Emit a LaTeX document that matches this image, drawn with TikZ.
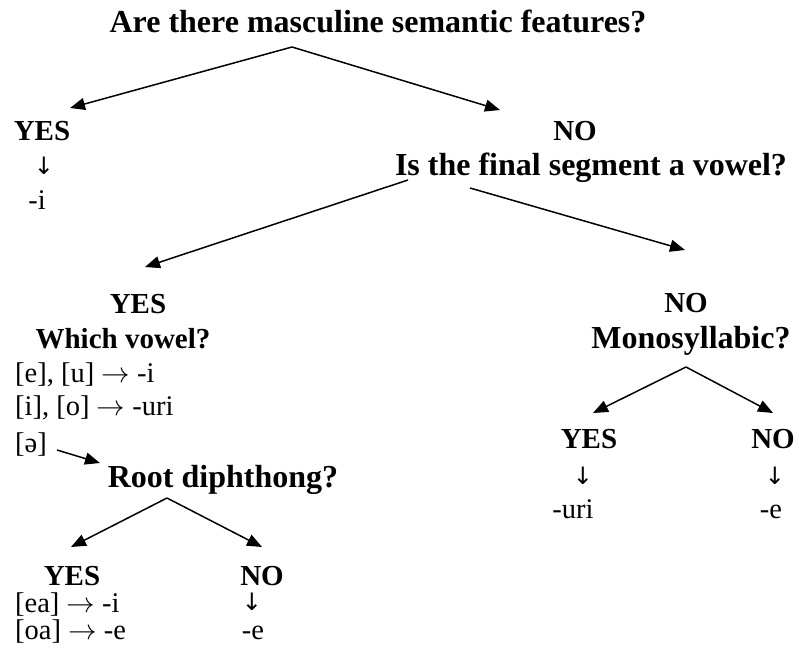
\documentclass[tikz,border=0pt]{standalone}
\usepackage{fix-cm}
\usepackage{fontspec}
\setmainfont{Liberation Serif}
\newfontfamily\arrowfont{DejaVu Sans}
\usetikzlibrary{arrows.meta}

\begin{document}
\begin{tikzpicture}[x=1pt, y=-1pt,
    question/.style={anchor=base, inner sep=0pt, font=\fontsize{32}{38}\selectfont\bfseries},
    answer/.style={anchor=base, inner sep=0pt, font=\fontsize{29}{34}\selectfont\bfseries},
    rule/.style={anchor=base west, inner sep=0pt, font=\fontsize{28.5}{34}\selectfont},
    outcome/.style={anchor=base, inner sep=0pt, font=\fontsize{28.5}{34}\selectfont},
    down/.style={anchor=base, inner sep=0pt, font=\fontsize{24}{28}\arrowfont},
    branch/.style={line width=1.5pt, -{Triangle[length=15pt, width=12pt]}}]
    \useasboundingbox (0,0) rectangle (799,662);

    % first question
    \node[question] (masc) at (378,32) {Are there masculine semantic features?};
    \node[answer] (mascyes) at (42,140) {YES};
    \node[down] (mascdown) at (44,174) {↓};
    \node[outcome] (masci) at (37,209) {-i};
    \node[answer] (mascno) at (575,140) {NO};

    % final segment
    \node[question] (final) at (591,175) {Is the final segment a vowel?};
    \node[answer] (finalyes) at (138,313) {YES};
    \node[answer] (vowel) at (123,348) {Which vowel?};
    \node[rule] (eu) at (15,382) {[e], [u] $\rightarrow$ -i};
    \node[rule] (io) at (15,415) {[i], [o] $\rightarrow$ -uri};
    \node[rule] (schwa) at (15,452) {[ə]};
    \node[answer] (finalno) at (686,312) {NO};
    \node[question] (mono) at (691,348) {Monosyllabic?};

    % monosyllabic
    \node[answer] (monoyes) at (589,448) {YES};
    \node[answer] (monono) at (773,448) {NO};
    \node[down] (monoyesdown) at (583,484) {↓};
    \node[down] (mononodown) at (775,484) {↓};
    \node[outcome] (monouri) at (573,518) {-uri};
    \node[outcome] (monoe) at (771,518) {-e};

    % root diphthong
    \node[question] (root) at (223,487) {Root diphthong?};
    \node[answer] (rootyes) at (72,585) {YES};
    \node[answer] (rootno) at (262,585) {NO};
    \node[rule] (ea) at (15,612) {[ea] $\rightarrow$ -i};
    \node[rule] (oa) at (15,639) {[oa] $\rightarrow$ -e};
    \node[down] (rootdown) at (252,610) {↓};
    \node[outcome] (roote) at (253,639) {-e};

    % branch points
    \coordinate (mascfork) at (292,47);
    \coordinate (mascyestip) at (70,108);
    \coordinate (mascnotip) at (500,110);
    \coordinate (finalleft) at (408,180);
    \coordinate (finalright) at (470,188);
    \coordinate (finalyestip) at (145,267);
    \coordinate (finalnotip) at (685,250);
    \coordinate (schwatail) at (57,450);
    \coordinate (schwatip) at (100,463);
    \coordinate (rootfork) at (167,498);
    \coordinate (rootyestip) at (71,547);
    \coordinate (rootnotip) at (262,547);
    \coordinate (monofork) at (686,367);
    \coordinate (monoyestip) at (593,413);
    \coordinate (mononotip) at (773,413);

    \draw[branch] (mascfork) -- (mascyestip);
    \draw[branch] (mascfork) -- (mascnotip);
    \draw[branch] (finalleft) -- (finalyestip);
    \draw[branch] (finalright) -- (finalnotip);
    \draw[branch] (schwatail) -- (schwatip);
    \draw[branch] (rootfork) -- (rootyestip);
    \draw[branch] (rootfork) -- (rootnotip);
    \draw[branch] (monofork) -- (monoyestip);
    \draw[branch] (monofork) -- (mononotip);
\end{tikzpicture}
\end{document}
